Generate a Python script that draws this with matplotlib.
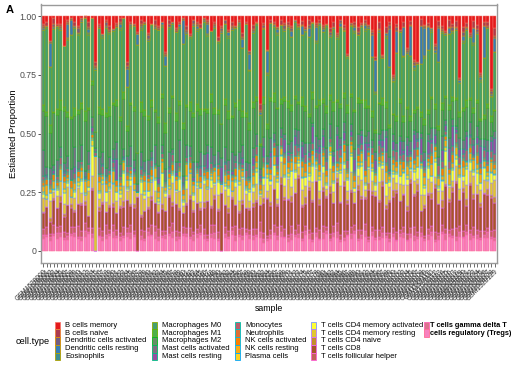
import numpy as np
import matplotlib
matplotlib.use("Agg")
import matplotlib.pyplot as plt
from matplotlib.patches import Rectangle

plt.rcParams["font.family"] = ["Liberation Sans", "DejaVu Sans"]

# cell types, in ggplot order (first level drawn on top of the stack)
cell_types = [
    "B cells memory", "B cells naive", "Dendritic cells activated",
    "Dendritic cells resting", "Eosinophils", "Macrophages M0",
    "Macrophages M1", "Macrophages M2", "Mast cells activated",
    "Mast cells resting", "Monocytes", "Neutrophils", "NK cells activated",
    "NK cells resting", "Plasma cells", "T cells CD4 memory activated",
    "T cells CD4 memory resting", "T cells CD4 naive", "T cells CD8",
    "T cells follicular helper", "T cells gamma delta",
    "T cells regulatory (Tregs)",
]
legend_labels = cell_types[:20] + ["T cells gamma delta T", "cells regulatory (Tregs)"]

n_samples = 130
samples = ["GSM%d" % (1528000 + k) for k in range(n_samples)]

# estimated proportions (percent, normalised per sample below)
b_mem = [4, 3, 13, 1, 4, 4, 14, 2, 1, 3, 5, 1, 0, 3, 1, 22, 4, 9, 2, 5,
         7, 3, 1, 1, 26, 3, 4, 6, 2, 3, 8, 4, 2, 5, 3, 18, 2, 3, 6, 3,
         1, 5, 9, 2, 3, 4, 1, 2, 8, 3, 10, 4, 2, 7, 3, 5, 2, 9, 3, 20,
         5, 3, 46, 4, 20, 2, 3, 6, 2, 4, 3, 5, 2, 4, 3, 6, 2, 3, 4, 2,
         5, 4, 7, 3, 9, 2, 5, 21, 4, 3, 6, 4, 2, 5, 8, 25, 3, 23, 6, 4,
         34, 5, 7, 4, 17, 3, 26, 26, 2, 5, 4, 6, 16, 3, 5, 8, 2, 4, 3, 35,
         6, 4, 9, 3, 5, 31, 4, 3, 47, 7]
b_naive = [1, 2, 0, 3, 1, 1, 0, 1, 0, 2, 1, 0, 1, 2, 0, 2, 1, 0, 1, 2,
           0, 1, 2, 0, 2, 1, 0, 1, 2, 0, 1, 0, 2, 1, 0, 1, 2, 0, 1, 1,
           0, 2, 1, 0, 1, 2, 0, 1, 0, 1, 2, 1, 0, 1, 2, 0, 1, 2, 1, 0,
           2, 1, 3, 1, 0, 2, 1, 0, 3, 1, 2, 1, 0, 1, 2, 1, 3, 0, 1, 2,
           1, 0, 2, 3, 1, 0, 2, 1, 0, 2, 3, 1, 2, 0, 1, 2, 4, 1, 3, 2,
           1, 2, 0, 3, 1, 2, 1, 0, 4, 1, 2, 0, 1, 3, 2, 1, 4, 2, 3, 1,
           3, 2, 1, 4, 2, 1, 3, 2, 1, 5]
dc_act = [1, 0, 1, 2, 0, 1, 0, 1, 1, 0, 2, 1, 0, 1, 0, 1, 1, 0, 2, 1,
          0, 1, 1, 0, 2, 0, 1, 0, 1, 1, 2, 0, 1, 1, 0, 1, 2, 0, 1, 0,
          1, 1, 0, 2, 1, 0, 1, 1, 0, 1, 0, 1, 2, 0, 1, 1, 0, 1, 0, 2,
          1, 0, 1, 2, 1, 0, 1, 1, 0, 2, 1, 2, 0, 1, 1, 0, 2, 1, 1, 0,
          1, 1, 2, 0, 1, 2, 1, 0, 1, 1, 2, 0, 1, 1, 2, 0, 1, 1, 0, 2,
          1, 2, 1, 0, 1, 1, 2, 1, 0, 1, 1, 0, 2, 1, 1, 0, 1, 2, 1, 0,
          2, 1, 1, 0, 2, 1, 0, 1, 2, 1]
dc_rest = [1, 0, 12, 1, 0, 1, 0, 8, 8, 1, 0, 1, 0, 2, 0, 1, 0, 1, 1, 0,
           1, 0, 2, 0, 10, 1, 0, 4, 1, 0, 1, 0, 1, 0, 2, 5, 0, 1, 0, 1,
           13, 1, 0, 1, 2, 0, 1, 5, 0, 1, 0, 1, 0, 2, 1, 0, 1, 5, 0, 9,
           1, 0, 2, 1, 13, 0, 1, 2, 0, 1, 0, 3, 1, 0, 5, 1, 5, 0, 8, 1,
           2, 0, 1, 1, 0, 2, 1, 0, 1, 2, 0, 1, 2, 1, 13, 20, 1, 0, 2, 25,
           1, 14, 0, 20, 1, 18, 2, 0, 24, 17, 14, 1, 2, 21, 0, 1, 3, 0, 1, 2,
           3, 1, 0, 9, 1, 2, 22, 0, 1, 9]
eosin = [0, 1, 0, 0, 1, 0, 0, 1, 0, 0, 1, 0, 0, 1, 0, 0, 0, 1, 0, 1,
         0, 0, 1, 0, 0, 1, 0, 0, 1, 0, 0, 1, 0, 0, 1, 0, 1, 0, 0, 1,
         0, 0, 1, 0, 1, 0, 0, 1, 0, 0, 1, 0, 0, 1, 0, 0, 1, 0, 0, 1,
         0, 1, 0, 0, 1, 0, 0, 1, 0, 0, 1, 0, 0, 1, 0, 1, 0, 0, 1, 0,
         0, 1, 0, 0, 1, 0, 0, 1, 0, 1, 0, 0, 1, 0, 0, 1, 0, 0, 1, 0,
         1, 0, 0, 1, 0, 0, 1, 0, 0, 1, 0, 1, 0, 0, 1, 0, 0, 1, 0, 0,
         1, 0, 0, 1, 0, 1, 0, 0, 1, 0]
mac_m0 = [38, 42, 30, 45, 40, 36, 28, 39, 44, 41, 37, 40, 46, 35, 30, 30, 41, 36, 43, 38,
          39, 35, 44, 40, 22, 37, 41, 42, 38, 43, 36, 41, 39, 44, 37, 28, 42, 38, 40, 35,
          42, 37, 33, 45, 39, 41, 44, 36, 34, 40, 32, 38, 41, 36, 43, 39, 37, 33, 44, 30,
          38, 40, 15, 41, 30, 43, 36, 39, 42, 37, 40, 36, 42, 39, 37, 41, 44, 38, 35, 42,
          38, 43, 34, 41, 33, 44, 37, 26, 40, 42, 36, 41, 39, 43, 32, 22, 40, 24, 35, 38,
          18, 39, 35, 40, 28, 36, 24, 25, 30, 37, 38, 34, 29, 40, 37, 33, 41, 35, 39, 16,
          36, 40, 32, 38, 37, 20, 39, 41, 12, 35]
mac_m1 = [3, 2, 4, 1, 3, 5, 2, 3, 1, 4, 2, 3, 5, 1, 2, 0, 4, 3, 2, 5,
          1, 3, 2, 4, 3, 1, 2, 0, 5, 3, 2, 4, 1, 3, 2, 5, 3, 1, 4, 2,
          3, 1, 5, 2, 4, 3, 1, 2, 4, 3, 2, 0, 3, 4, 1, 2, 5, 3, 2, 4,
          3, 2, 1, 4, 3, 2, 5, 1, 3, 2, 4, 3, 2, 1, 5, 3, 2, 4, 1, 3,
          2, 4, 3, 5, 1, 2, 3, 4, 2, 1, 3, 2, 4, 1, 3, 2, 1, 4, 3, 2,
          1, 3, 2, 4, 1, 3, 2, 1, 3, 4, 2, 1, 3, 2, 4, 1, 3, 2, 1, 3,
          2, 4, 1, 3, 2, 1, 3, 2, 4, 1]
mac_m2 = [20, 26, 18, 28, 22, 19, 24, 21, 27, 16, 23, 18, 25, 20, 15, 8, 22, 19, 26, 21,
          24, 17, 22, 27, 14, 20, 25, 12, 21, 23, 19, 24, 16, 22, 26, 18, 21, 27, 20, 17,
          25, 20, 18, 23, 27, 19, 22, 16, 24, 21, 18, 14, 23, 20, 17, 25, 21, 15, 22, 19,
          22, 18, 12, 20, 16, 21, 17, 19, 14, 18, 20, 16, 17, 14, 21, 18, 15, 13, 16, 19,
          15, 19, 14, 22, 13, 17, 14, 18, 16, 20, 18, 15, 16, 13, 14, 12, 17, 15, 12, 19,
          11, 14, 17, 13, 15, 12, 10, 13, 10, 16, 13, 15, 11, 17, 14, 12, 16, 10, 15, 12,
          16, 14, 12, 15, 13, 10, 14, 17, 9, 12]
mast_act = [13, 4, 6, 3, 8, 5, 4, 7, 6, 10, 4, 8, 3, 6, 5, 2, 9, 6, 4, 7,
            5, 8, 6, 4, 6, 10, 4, 3, 8, 5, 7, 4, 9, 6, 4, 6, 8, 3, 5, 11,
            4, 6, 5, 8, 3, 7, 6, 4, 9, 5, 6, 4, 8, 5, 10, 4, 6, 7, 4, 8,
            5, 7, 3, 6, 4, 8, 4, 6, 5, 3, 4, 6, 4, 8, 3, 6, 5, 2, 7, 4,
            4, 6, 8, 3, 5, 4, 6, 8, 4, 5, 6, 3, 4, 7, 4, 5, 3, 6, 4, 8,
            4, 5, 3, 6, 4, 6, 2, 4, 3, 5, 4, 6, 4, 5, 7, 3, 6, 4, 2, 6,
            5, 3, 7, 4, 6, 4, 5, 6, 3, 4]
mast_rest = [0, 1, 0, 2, 0, 0, 1, 0, 0, 3, 0, 0, 1, 0, 2, 0, 0, 1, 0, 0,
             2, 10, 0, 1, 0, 0, 2, 0, 1, 0, 0, 1, 0, 3, 0, 0, 1, 0, 2, 0,
             1, 0, 0, 2, 0, 1, 0, 8, 0, 1, 0, 6, 1, 0, 2, 0, 0, 3, 0, 1,
             4, 0, 2, 6, 0, 3, 1, 5, 0, 8, 2, 0, 5, 1, 7, 0, 3, 9, 2, 4,
             6, 1, 0, 4, 8, 2, 5, 0, 3, 7, 1, 5, 9, 2, 0, 6, 3, 4, 8, 1,
             5, 0, 7, 3, 6, 2, 9, 1, 10, 4, 8, 2, 5, 0, 6, 3, 7, 11, 2, 5,
             3, 8, 1, 6, 4, 9, 2, 5, 7, 10]
monocytes = [2, 1, 3, 0, 2, 4, 1, 2, 0, 3, 1, 2, 0, 3, 1, 2, 0, 4, 1, 2,
             3, 0, 2, 1, 4, 2, 1, 0, 3, 1, 2, 4, 1, 0, 3, 1, 2, 4, 0, 2,
             1, 3, 2, 0, 1, 4, 2, 1, 3, 0, 2, 1, 4, 2, 0, 3, 1, 2, 4, 1,
             3, 5, 2, 4, 1, 6, 3, 2, 5, 1, 4, 2, 6, 3, 1, 5, 2, 4, 3, 6,
             2, 5, 3, 1, 6, 4, 2, 5, 3, 1, 5, 3, 6, 2, 4, 1, 5, 3, 6, 2,
             4, 6, 2, 5, 3, 1, 6, 4, 5, 2, 3, 5, 1, 6, 4, 2, 5, 3, 6, 4,
             2, 6, 4, 1, 5, 3, 6, 2, 4, 5]
neutro = [1, 0, 1, 0, 1, 1, 0, 1, 0, 1, 0, 1, 0, 1, 0, 0, 1, 0, 1, 0,
          1, 0, 1, 0, 1, 0, 1, 0, 0, 1, 0, 1, 0, 1, 0, 1, 0, 1, 0, 1,
          1, 0, 1, 0, 1, 0, 1, 0, 1, 0, 0, 0, 1, 0, 1, 0, 1, 0, 1, 0,
          1, 0, 1, 1, 0, 1, 0, 1, 0, 1, 0, 1, 0, 1, 1, 0, 1, 0, 1, 0,
          1, 0, 1, 0, 1, 1, 0, 1, 0, 1, 0, 1, 0, 1, 0, 1, 1, 0, 1, 0,
          1, 0, 1, 0, 1, 0, 1, 1, 0, 1, 0, 1, 0, 1, 0, 1, 0, 1, 1, 0,
          1, 0, 1, 0, 1, 0, 1, 0, 1, 1]
nk_act = [2, 3, 1, 4, 2, 1, 3, 2, 4, 1, 3, 2, 1, 4, 2, 0, 3, 1, 2, 4,
          1, 3, 2, 1, 3, 2, 4, 0, 1, 3, 2, 4, 1, 3, 2, 1, 3, 4, 2, 1,
          3, 1, 4, 2, 1, 3, 2, 4, 1, 2, 4, 0, 1, 3, 2, 4, 1, 2, 3, 1,
          2, 4, 3, 1, 2, 3, 5, 2, 1, 4, 3, 2, 4, 1, 3, 5, 2, 3, 1, 4,
          2, 3, 1, 4, 2, 3, 5, 1, 2, 3, 4, 1, 3, 2, 5, 1, 3, 2, 4, 1,
          3, 4, 2, 5, 1, 3, 2, 4, 1, 3, 2, 5, 3, 1, 4, 2, 3, 5, 1, 2,
          4, 1, 3, 2, 5, 3, 1, 4, 2, 3]
nk_rest = [3, 5, 2, 4, 1, 6, 3, 2, 5, 4, 2, 4, 6, 3, 1, 0, 5, 2, 4, 3,
           6, 3, 2, 5, 4, 1, 3, 0, 2, 5, 4, 2, 5, 3, 6, 2, 4, 1, 5, 3,
           3, 6, 2, 4, 5, 3, 1, 4, 2, 6, 2, 0, 4, 3, 5, 2, 6, 3, 1, 4,
           5, 3, 2, 6, 4, 3, 5, 2, 4, 6, 3, 5, 4, 2, 6, 3, 4, 5, 2, 3,
           6, 4, 3, 5, 2, 4, 6, 3, 5, 4, 2, 5, 4, 6, 3, 5, 2, 4, 6, 3,
           4, 3, 6, 2, 5, 4, 3, 6, 2, 5, 3, 6, 4, 5, 2, 4, 6, 3, 5, 4,
           5, 2, 4, 6, 3, 5, 4, 2, 6, 3]
plasma = [1, 2, 0, 1, 1, 0, 2, 1, 0, 1, 2, 1, 1, 0, 3, 0, 1, 2, 0, 1,
          1, 0, 2, 1, 1, 2, 0, 0, 1, 2, 0, 1, 1, 2, 0, 1, 2, 1, 0, 1,
          1, 2, 0, 1, 2, 0, 1, 1, 2, 0, 1, 0, 2, 1, 0, 1, 2, 0, 1, 2,
          1, 2, 0, 1, 2, 1, 0, 2, 1, 1, 2, 0, 1, 2, 1, 0, 2, 1, 1, 2,
          0, 1, 2, 1, 0, 2, 1, 1, 2, 0, 1, 2, 1, 0, 2, 1, 1, 2, 0, 1,
          2, 1, 0, 1, 2, 1, 2, 0, 1, 2, 1, 0, 2, 1, 1, 2, 0, 1, 2, 1,
          0, 2, 1, 1, 2, 0, 1, 2, 1, 1]
cd4_mem_act = [2, 0, 4, 1, 3, 0, 5, 2, 0, 3, 1, 6, 0, 2, 14, 0, 3, 0, 5, 1,
               0, 4, 2, 7, 1, 3, 0, 0, 6, 2, 3, 0, 5, 1, 8, 2, 0, 4, 1, 6,
               2, 5, 0, 3, 1, 7, 2, 0, 4, 1, 6, 0, 2, 4, 0, 3, 8, 1, 2, 5,
               3, 7, 1, 4, 8, 2, 6, 9, 3, 5, 1, 8, 4, 2, 7, 5, 3, 9, 1, 6,
               4, 2, 8, 5, 1, 7, 3, 6, 9, 2, 5, 8, 3, 1, 6, 4, 9, 2, 7, 3,
               2, 6, 4, 8, 3, 1, 5, 7, 17, 4, 7, 3, 9, 2, 5, 8, 1, 6, 4, 7,
               3, 9, 5, 2, 7, 4, 8, 1, 6, 3]
cd4_mem_rest = [7, 4, 9, 3, 6, 8, 5, 10, 4, 6, 8, 5, 3, 12, 6, 46, 4, 9, 5, 7,
                10, 6, 4, 8, 5, 9, 7, 2, 11, 6, 5, 8, 6, 4, 9, 7, 3, 10, 6, 8,
                4, 7, 11, 5, 8, 3, 9, 6, 10, 5, 7, 4, 8, 6, 3, 9, 5, 11, 7, 4,
                6, 9, 5, 8, 4, 10, 7, 3, 9, 6, 11, 5, 8, 4, 9, 6, 3, 10, 7, 5,
                8, 4, 10, 6, 3, 9, 7, 5, 11, 6, 5, 9, 4, 8, 6, 3, 10, 7, 5, 9,
                7, 4, 9, 6, 11, 5, 8, 3, 10, 6, 9, 6, 4, 8, 5, 10, 7, 3, 9, 6,
                4, 8, 6, 11, 5, 7, 9, 4, 8, 10]
cd4_naive = [1, 0, 2, 1, 0, 3, 1, 0, 2, 1, 0, 1, 2, 0, 1, 0, 2, 1, 0, 1,
             2, 0, 1, 3, 0, 1, 2, 0, 1, 0, 1, 2, 0, 1, 3, 0, 1, 2, 0, 1,
             0, 1, 2, 1, 0, 1, 3, 0, 1, 2, 1, 0, 0, 2, 1, 0, 1, 2, 0, 1,
             2, 1, 0, 3, 1, 2, 0, 1, 4, 2, 1, 3, 0, 2, 1, 4, 2, 1, 0, 3,
             2, 1, 4, 0, 2, 1, 3, 2, 1, 0, 3, 2, 1, 4, 2, 0, 1, 3, 2, 1,
             4, 2, 0, 1, 3, 2, 1, 4, 0, 2, 1, 3, 2, 0, 4, 1, 2, 3, 1, 0,
             2, 4, 1, 3, 0, 2, 1, 3, 2, 4]
cd8 = [8, 10, 6, 14, 9, 12, 7, 15, 10, 8, 11, 13, 9, 6, 18, 0, 9, 14, 7, 12,
       10, 8, 13, 11, 16, 9, 12, 21, 7, 10, 9, 14, 11, 8, 12, 10, 16, 9, 13, 11,
       7, 12, 15, 10, 14, 8, 11, 17, 9, 13, 10, 24, 12, 9, 14, 11, 8, 13, 10, 12,
       12, 15, 9, 18, 22, 14, 20, 11, 24, 16, 19, 13, 21, 25, 15, 12, 23, 17, 26, 14,
       20, 16, 24, 13, 22, 18, 27, 15, 21, 12, 23, 17, 14, 26, 19, 21, 16, 25, 13, 20,
       18, 24, 15, 22, 12, 27, 19, 23, 10, 17, 21, 14, 25, 18, 9, 23, 16, 20, 26, 15,
       22, 11, 24, 17, 20, 13, 25, 18, 21, 16]
tfh = [3, 4, 2, 5, 3, 4, 3, 2, 4, 3, 5, 3, 4, 2, 3, 0, 4, 3, 5, 2,
       4, 3, 2, 5, 3, 4, 2, 0, 3, 4, 2, 5, 3, 4, 3, 2, 4, 5, 3, 2,
       4, 3, 5, 2, 3, 4, 3, 2, 5, 4, 3, 0, 4, 3, 2, 5, 3, 4, 2, 3,
       4, 3, 5, 4, 2, 3, 4, 5, 3, 4, 2, 4, 3, 5, 4, 3, 2, 4, 3, 5,
       4, 2, 3, 4, 5, 3, 4, 2, 4, 3, 5, 3, 4, 2, 3, 5, 4, 3, 2, 4,
       3, 5, 2, 4, 3, 4, 5, 3, 4, 2, 4, 3, 5, 2, 4, 3, 2, 4, 5, 3,
       3, 4, 2, 5, 3, 4, 3, 2, 4, 5]
gamma_delta = [2, 1, 2, 1, 3, 2, 1, 2, 1, 2, 1, 2, 3, 1, 2, 0, 1, 2, 2, 1,
               3, 1, 2, 1, 2, 3, 1, 0, 2, 1, 2, 1, 3, 2, 1, 2, 1, 3, 2, 1,
               1, 2, 1, 3, 2, 1, 2, 1, 2, 3, 1, 0, 2, 1, 2, 3, 1, 2, 1, 2,
               2, 1, 3, 2, 1, 2, 1, 2, 3, 1, 2, 3, 1, 2, 1, 2, 3, 1, 2, 1,
               3, 2, 1, 2, 3, 1, 2, 1, 3, 2, 1, 2, 3, 1, 2, 1, 2, 3, 1, 2,
               2, 1, 2, 3, 1, 2, 3, 1, 2, 1, 3, 2, 1, 2, 1, 3, 2, 1, 2, 3,
               1, 2, 3, 1, 2, 1, 2, 3, 1, 2]
tregs = [6, 7, 5, 8, 6, 7, 5, 6, 8, 7, 6, 5, 7, 8, 6, 0, 7, 5, 6, 8,
         7, 6, 5, 7, 8, 6, 7, 0, 6, 5, 7, 8, 6, 5, 7, 6, 8, 7, 5, 6,
         8, 7, 6, 5, 7, 8, 6, 5, 7, 6, 5, 0, 7, 6, 8, 5, 7, 6, 8, 7,
         6, 8, 7, 5, 6, 7, 9, 6, 8, 7, 5, 6, 8, 7, 6, 9, 7, 5, 8, 6,
         7, 9, 6, 8, 7, 5, 6, 8, 7, 9, 6, 7, 8, 5, 9, 7, 6, 8, 7, 6,
         8, 6, 7, 9, 5, 8, 6, 7, 9, 6, 7, 8, 5, 7, 9, 6, 8, 7, 6, 8,
         7, 9, 6, 8, 7, 6, 9, 7, 8, 6]

series = [b_mem, b_naive, dc_act, dc_rest, eosin, mac_m0, mac_m1, mac_m2,
          mast_act, mast_rest, monocytes, neutro, nk_act, nk_rest, plasma,
          cd4_mem_act, cd4_mem_rest, cd4_naive, cd8, tfh, gamma_delta, tregs]


def hcl_hex(h, c=100.0, l=65.0):
    # polar Luv -> sRGB, like scales::hue_pal()
    hr = np.deg2rad(h)
    u, v = c * np.cos(hr), c * np.sin(hr)
    xn, yn, zn = 95.047, 100.0, 108.883
    un = 4 * xn / (xn + 15 * yn + 3 * zn)
    vn = 9 * yn / (xn + 15 * yn + 3 * zn)
    y = yn * ((l + 16) / 116) ** 3
    up = u / (13 * l) + un
    vp = v / (13 * l) + vn
    x = 9 * y * up / (4 * vp)
    z = -x / 3 - 5 * y + 3 * y / vp
    x, y, z = x / 100, y / 100, z / 100
    rgb = np.array([3.2404542 * x - 1.5371385 * y - 0.4985314 * z,
                    -0.9692660 * x + 1.8760108 * y + 0.0415560 * z,
                    0.0556434 * x - 0.2040259 * y + 1.0572252 * z])
    rgb = np.where(rgb <= 0.0031308, 12.92 * rgb, 1.055 * np.abs(rgb) ** (1 / 2.4) - 0.055)
    return tuple(np.clip(rgb, 0, 1))


def ramp(cols, n):
    cols = np.array([matplotlib.colors.to_rgb(c) for c in cols])
    pos = np.linspace(0, len(cols) - 1, n)
    out = []
    for p in pos:
        i = min(int(np.floor(p)), len(cols) - 2)
        f = p - i
        out.append(tuple(cols[i] * (1 - f) + cols[i + 1] * f))
    return out


set1 = ["#E41A1C", "#377EB8", "#4DAF4A", "#984EA3", "#FF7F00", "#FFFF33", "#A65628", "#F781BF"]
n_types = len(cell_types)
fills = ramp(set1, n_types)
edges = [hcl_hex(15 + k * 360.0 / n_types) for k in range(n_types)]

data = np.array(series, dtype=float)
data = data / data.sum(axis=0)

fig = plt.figure(figsize=(5.11, 3.66), dpi=100)
W, H = 511.0, 366.0
ax = fig.add_axes([41 / W, 1 - 262.7 / H, (497 - 41) / W, (262.7 - 4.5) / H])

x = np.arange(n_samples)
bottom = np.zeros(n_samples)
for k in range(n_types - 1, -1, -1):
    ax.bar(x, data[k], width=0.9, bottom=bottom, color=fills[k],
           edgecolor=edges[k], linewidth=0.35)
    bottom += data[k]

ax.set_xlim(-0.6, n_samples - 0.4)
ax.set_ylim(-0.05, 1.05)
ax.set_yticks([0, 0.25, 0.5, 0.75, 1.0])
ax.set_yticklabels(["0", "0.25", "0.50", "0.75", "1.00"])
ax.set_xticks(x)
ax.set_xticklabels(samples, rotation=45, ha="right", rotation_mode="anchor",
                   fontsize=4.9, color="#333333")
ax.tick_params(axis="y", labelsize=6.3, labelcolor="#4D4D4D", length=2.5,
               width=0.6, color="#333333", pad=1)
ax.tick_params(axis="x", length=2.8, width=0.5, color="#333333", pad=1)
for s in ax.spines.values():
    s.set_color("#9A9A9A")
    s.set_linewidth(1.0)
ax.set_ylabel("Estiamted Proportion", fontsize=6.8, labelpad=1)
ax.set_xlabel("sample", fontsize=6.3, labelpad=1)

# legend, drawn in pixel coordinates
lg = fig.add_axes([0, 0, 1, 1], zorder=-1)
lg.set_xlim(0, W)
lg.set_ylim(H, 0)
lg.axis("off")
lg.text(16, 341, "cell.type", fontsize=6.7, va="center", ha="left")
col_x = [55, 152, 235, 311, 424]
row_h = 7.7
for k, lab in enumerate(legend_labels):
    c, r = divmod(k, 5)
    y0 = 321.7 + r * row_h
    lg.add_patch(Rectangle((col_x[c], y0), 5, row_h, facecolor=fills[k],
                           edgecolor=edges[k], linewidth=0.6))
    bold = c == 4
    lg.text(col_x[c] + (5.5 if bold else 10), y0 + row_h / 2, lab,
            fontsize=5.3 if bold else 5.5, va="center", ha="left",
            fontweight="bold" if bold else "normal")

lg.text(6, 10, "A", fontsize=8, fontweight="bold", va="center", ha="left")

fig.savefig("out.png", dpi=100)
